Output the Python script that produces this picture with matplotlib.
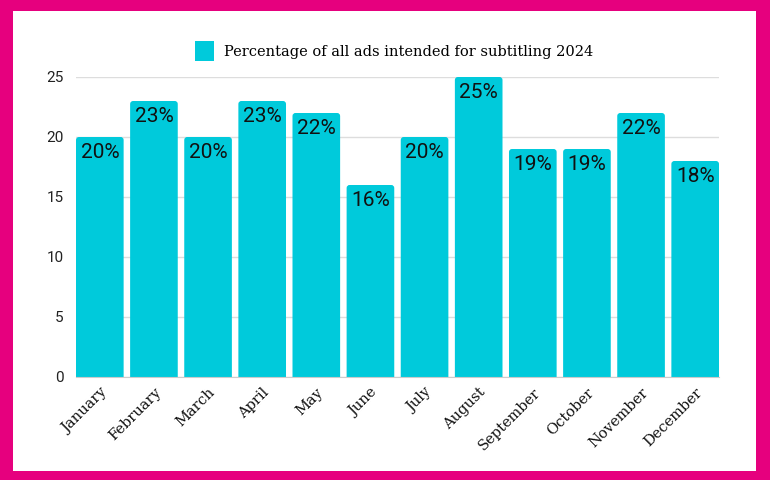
import matplotlib
matplotlib.use("Agg")
import matplotlib.pyplot as plt
from matplotlib.patches import FancyBboxPatch, Rectangle

months = ["January", "February", "March", "April", "May", "June", "July",
          "August", "September", "October", "November", "December"]
values = [20, 23, 20, 23, 22, 16, 20, 25, 19, 19, 22, 18]
yticks = [0, 5, 10, 15, 20, 25]
legend_label = "Percentage of all ads intended for subtitling 2024"

BAR = "#00CADB"
PINK = "#E6007E"
SERIF = ["DejaVu Serif"]
SANS = ["Roboto", "DejaVu Sans"]

W, H = 770, 480
fig = plt.figure(figsize=(W / 100, H / 100), dpi=100, facecolor=PINK)
fig.patches.append(Rectangle((13 / W, 9 / H), (756 - 13) / W, (469 - 9) / H,
                             transform=fig.transFigure, facecolor="white",
                             edgecolor="none", zorder=-10))

ax = fig.add_axes([76 / W, (H - 377) / H, (719 - 76) / W, (377 - 77) / H])
ax.set_facecolor("none")
width = 0.88
ax.set_xlim(-width / 2, len(months) - 1 + width / 2)
ax.set_ylim(0, 25)

bars = ax.bar(range(len(months)), values, width=width, color=BAR, alpha=0)
# rounded top corners
xpx = (719 - 76) / (len(months) - 1 + width)
ypx = (377 - 77) / 25
aspect = xpx / ypx
r = 3 / xpx
for b, v in zip(bars, values):
    p = FancyBboxPatch((b.get_x(), -1), b.get_width(), b.get_height() + 1,
                       boxstyle=f"round,pad=0,rounding_size={r}",
                       mutation_aspect=aspect, facecolor=BAR, edgecolor="none",
                       zorder=3)
    ax.add_patch(p)
    ax.annotate(f"{v}%", (b.get_x() + b.get_width() / 2, v), xytext=(0, -4),
                textcoords="offset points", ha="center", va="top",
                fontsize=15, family=SANS, color="#111111", zorder=4)

ax.set_yticks(yticks)
ax.set_yticklabels([str(t) for t in yticks], family=SANS, fontsize=11, color="#222222")
ax.grid(axis="y", color="#DDDDDD", linewidth=1, zorder=0)
ax.set_axisbelow(True)
for s in ["top", "right", "left"]:
    ax.spines[s].set_visible(False)
ax.spines["bottom"].set_color("#CCCCCC")
ax.spines["bottom"].set_zorder(5)
ax.tick_params(axis="both", length=0)
ax.tick_params(axis="y", pad=9)
ax.set_xticks(range(len(months)))
ax.set_xticklabels(months, rotation=45, ha="right", rotation_mode="anchor",
                   family=SERIF, fontsize=10.5, color="#111111")
ax.tick_params(axis="x", pad=6)

handle = Rectangle((0, 0), 1, 1, facecolor=BAR, edgecolor="none")
leg = fig.legend([handle], [legend_label], loc="center", bbox_to_anchor=(394 / W, (H - 51) / H),
                 frameon=False, prop={"family": SERIF, "size": 10.5},
                 handlelength=1.3, handleheight=1.7, handletextpad=0.7)

fig.savefig("out.png", dpi=100, facecolor=PINK)
